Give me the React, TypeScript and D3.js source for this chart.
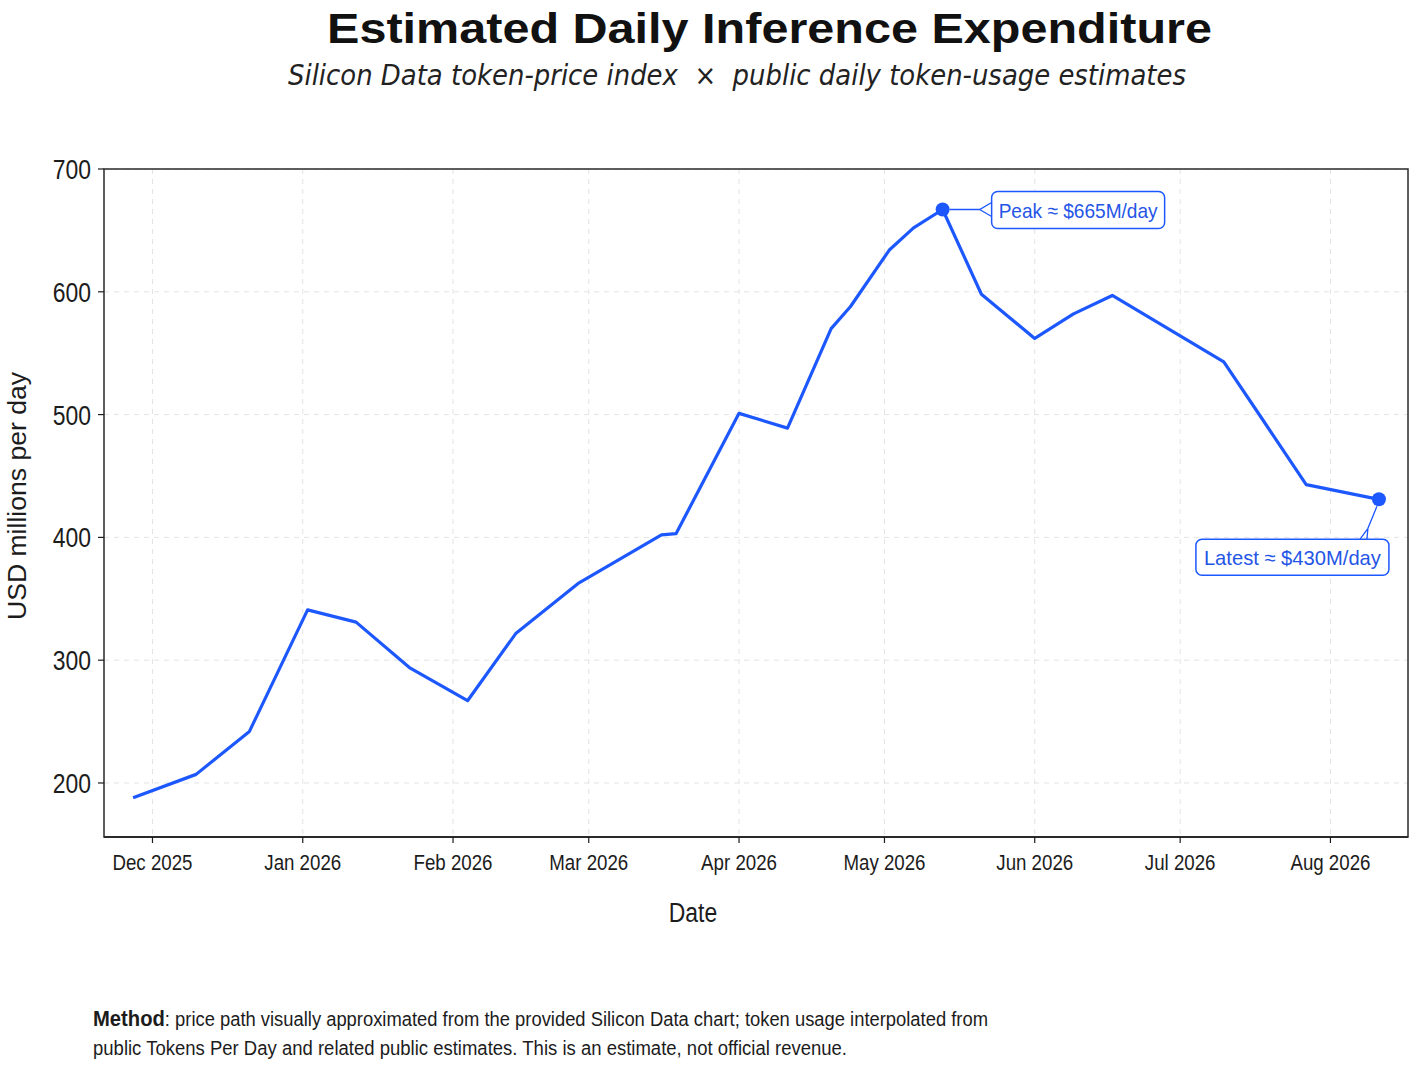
import * as d3 from "d3";

// ── Data ────────────────────────────────────────────────────────────────────
const dates = [
  "2025-11-27", "2025-12-10", "2025-12-21", "2026-01-02", "2026-01-12",
  "2026-01-23", "2026-02-04", "2026-02-14", "2026-02-27", "2026-03-16",
  "2026-03-19", "2026-04-01", "2026-04-11", "2026-04-20", "2026-04-24",
  "2026-05-02", "2026-05-07", "2026-05-13", "2026-05-21", "2026-06-01",
  "2026-06-09", "2026-06-17", "2026-07-10", "2026-07-18", "2026-07-27",
  "2026-08-11",
];
const spend = [
  188, 207, 242, 341, 331, 294, 267, 322, 363, 402, 403, 501, 489, 570, 588,
  634, 652, 667, 598, 562, 582, 597, 543, 496, 443, 431,
];
const yTicks = [200, 300, 400, 500, 600, 700];
const xDomain = ["2025-11-21", "2026-08-17"];
const peakLabel = "Peak ≈ $665M/day";
const latestLabel = "Latest ≈ $430M/day";

const W = 1426;
const H = 1070;
const m = { l: 104, r: 1408, t: 169, b: 837 };
const BLUE = "#1d58ff";
const INK = "#1c1c1c";
const SANS = "'Liberation Sans', Arial, sans-serif";

const parse = (s: string) => new Date(s + "T00:00:00Z");

// narrowed text, the reference is squeezed horizontally
const T = ({ x, y, size, anchor = "start", weight = "normal", fill = INK, sx = 0.85, children }: any) => (
  <text
    transform={`translate(${x},${y}) scale(${sx},1)`}
    fontFamily={SANS}
    fontSize={size}
    fontWeight={weight}
    textAnchor={anchor}
    fill={fill}
  >
    {children}
  </text>
);

export default function App() {
  const x = d3.scaleUtc().domain(xDomain.map(parse)).range([m.l, m.r]);
  const y = d3.scaleLinear().domain([156, 700]).range([m.b, m.t]);
  const months = d3.utcMonth.range(parse("2025-12-01"), parse("2026-08-02"));
  const fmt = d3.utcFormat("%b %Y");

  const pts = dates.map((d, i) => ({ d: parse(d), v: spend[i] }));
  const line = d3
    .line<{ d: Date; v: number }>()
    .x((p) => x(p.d))
    .y((p) => y(p.v));

  const peak = pts[d3.maxIndex(pts, (p) => p.v)];
  const last = pts[pts.length - 1];
  const px = x(peak.d), py = y(peak.v);
  const lx = x(last.d), ly = y(last.v);

  // annotation boxes
  const pb = { x: px + 49, y: py - 18, w: 173, h: 37 };
  const lb = { x: lx - 183, y: ly + 40, w: 193, h: 36 };

  return (
    <svg
      width={W}
      height={H}
      style={{ position: "absolute", left: 0, top: 0, background: "#fff" }}
    >
      {/* ── Titles ─────────────────────────────────────────────────────── */}
      <text
        x={327}
        y={43}
        fontFamily={SANS}
        fontSize={43}
        fontWeight="bold"
        fill="#111"
        textLength={885}
        lengthAdjust="spacingAndGlyphs"
      >
        Estimated Daily Inference Expenditure
      </text>
      <text
        x={288}
        y={85}
        fontFamily="'DejaVu Sans', sans-serif"
        fontSize={28}
        fontStyle="italic"
        fill="#222"
        textLength={898}
        lengthAdjust="spacingAndGlyphs"
        style={{ whiteSpace: "pre" }}
      >
        {"Silicon Data token-price index  ×  public daily token-usage estimates"}
      </text>

      {/* ── Grid ───────────────────────────────────────────────────────── */}
      {months.map((d) => (
        <line
          key={+d}
          x1={x(d)}
          x2={x(d)}
          y1={m.t}
          y2={m.b}
          stroke="#e3e3e3"
          strokeDasharray="5,5"
        />
      ))}
      {yTicks.map((t) => (
        <line
          key={t}
          x1={m.l}
          x2={m.r}
          y1={y(t)}
          y2={y(t)}
          stroke="#e3e3e3"
          strokeDasharray="5,5"
        />
      ))}

      {/* ── Frame + ticks ──────────────────────────────────────────────── */}
      <rect
        x={m.l}
        y={m.t}
        width={m.r - m.l}
        height={m.b - m.t}
        fill="none"
        stroke="#2a2a2a"
        strokeWidth={1.5}
      />
      <line x1={m.l} x2={m.r} y1={m.b} y2={m.b} stroke="#2a2a2a" strokeWidth={2.2} />
      {yTicks.map((t) => (
        <g key={t}>
          <line x1={m.l - 6} x2={m.l} y1={y(t)} y2={y(t)} stroke={INK} strokeWidth={1.2} />
          <T x={91} y={y(t) + 10} size={27} anchor="end">
            {t}
          </T>
        </g>
      ))}
      {months.map((d) => (
        <g key={+d}>
          <line x1={x(d)} x2={x(d)} y1={m.b} y2={m.b + 6} stroke={INK} strokeWidth={1.2} />
          <T x={x(d)} y={870} size={22} anchor="middle">
            {fmt(d)}
          </T>
        </g>
      ))}

      {/* ── Axis titles ────────────────────────────────────────────────── */}
      <T x={693} y={922} size={27} anchor="middle">
        Date
      </T>
      <text
        transform="translate(26,496) rotate(-90)"
        fontFamily={SANS}
        fontSize={25}
        textAnchor="middle"
        fill={INK}
        textLength={248}
        lengthAdjust="spacingAndGlyphs"
      >
        USD millions per day
      </text>

      {/* ── Series ─────────────────────────────────────────────────────── */}
      <path d={line(pts) ?? ""} fill="none" stroke={BLUE} strokeWidth={3.2} strokeLinejoin="round" />
      <circle cx={px} cy={py} r={7} fill={BLUE} />
      <circle cx={lx} cy={ly} r={7} fill={BLUE} />

      {/* ── Annotations ────────────────────────────────────────────────── */}
      <path
        d={`M${px + 7},${py} L${pb.x - 12},${py} L${pb.x},${py - 7} M${pb.x - 12},${py} L${pb.x},${py + 7}`}
        fill="none"
        stroke={BLUE}
        strokeWidth={1.3}
      />
      <rect x={pb.x} y={pb.y} width={pb.w} height={pb.h} rx={6} fill="#fff" stroke={BLUE} strokeWidth={1.5} />
      <text
        x={pb.x + 7}
        y={py + 8}
        fontFamily={SANS}
        fontSize={21}
        fill="#2455e6"
        textLength={159}
        lengthAdjust="spacingAndGlyphs"
      >
        {peakLabel}
      </text>

      <path
        d={`M${lx - 2},${ly + 7} L${lx - 11},${ly + 29} L${lx - 19},${lb.y} M${lx - 11},${ly + 29} L${lx - 12},${lb.y}`}
        fill="none"
        stroke={BLUE}
        strokeWidth={1.3}
      />
      <rect x={lb.x} y={lb.y} width={lb.w} height={lb.h} rx={6} fill="#fff" stroke={BLUE} strokeWidth={1.5} />
      <text
        x={lb.x + 8}
        y={lb.y + 26}
        fontFamily={SANS}
        fontSize={21}
        fill="#2455e6"
        textLength={177}
        lengthAdjust="spacingAndGlyphs"
      >
        {latestLabel}
      </text>

      {/* ── Footnote ───────────────────────────────────────────────────── */}
      <text
        x={93}
        y={1026}
        fontFamily={SANS}
        fontSize={20}
        fill={INK}
        textLength={895}
        lengthAdjust="spacingAndGlyphs"
      >
        <tspan fontWeight="bold" fontSize={22}>
          Method
        </tspan>
        : price path visually approximated from the provided Silicon Data chart; token usage interpolated from
      </text>
      <text
        x={93}
        y={1055}
        fontFamily={SANS}
        fontSize={20}
        fill={INK}
        textLength={754}
        lengthAdjust="spacingAndGlyphs"
      >
        public Tokens Per Day and related public estimates. This is an estimate, not official revenue.
      </text>
    </svg>
  );
}
